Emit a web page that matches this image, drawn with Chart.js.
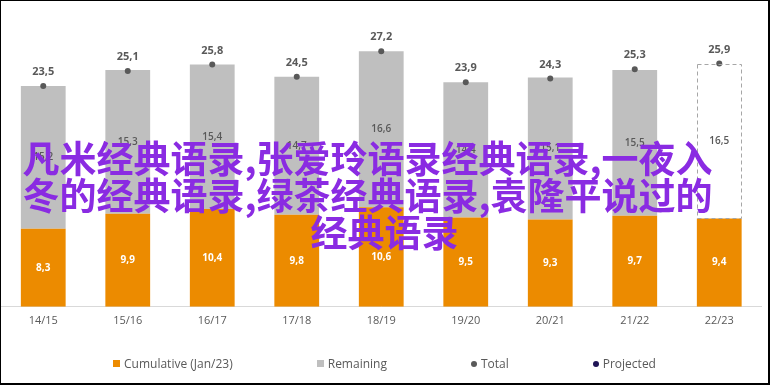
<!DOCTYPE html>
<html>
<head>
<meta charset="utf-8">
<script src="https://cdn.jsdelivr.net/npm/chart.js@4.4.1/dist/chart.umd.min.js"></script>
<style>
    html, body { margin: 0; padding: 0; background: #fff; }
    #frame {
        position: relative;
        width: 770px;
        height: 385px;
        box-sizing: border-box;
        border: 1px solid #000;
        border-right-width: 2px;
        border-bottom-width: 2px;
        overflow: hidden;
    }
    #chartBox { position: absolute; left: 0; top: 0; width: 767px; height: 382px; }
    #legend {
        position: absolute;
        left: 0; right: 0; top: 354px;
        display: flex;
        justify-content: center;
        gap: 84px;
        font-family: 'Open Sans', sans-serif;
        font-size: 12px;
        color: #595959;
    }
    #legend span.item { display: flex; align-items: center; }
    #legend i { display: inline-block; width: 7px; height: 7px; margin-right: 4px; }
    #legend i.dot { border-radius: 50%; width: 6px; height: 6px; }
    #overlay {
        position: absolute;
        left: 0; width: 767px; top: 138px;
        text-align: center;
        font-family: 'Noto Sans CJK SC', sans-serif;
        font-weight: 700;
        font-size: 37px;
        line-height: 37px;
        color: #8a2be2;
        white-space: nowrap;
        pointer-events: none;
    }
    #overlay .shift { position: relative; left: -17px; }
</style>
</head>
<body>
<div id="frame">
    <div id="chartBox"><canvas id="seasonChart"></canvas></div>
    <div id="legend">
        <span class="item"><i style="background:#ec8b00"></i>Cumulative (Jan/23)</span>
        <span class="item"><i style="background:#bfbfbf"></i>Remaining</span>
        <span class="item"><i class="dot" style="background:#595959"></i>Total</span>
        <span class="item"><i class="dot" style="background:#1f1456"></i>Projected</span>
    </div>
    <div id="overlay">
        <div class="shift">凡米经典语录,张爱玲语录经典语录,一夜入</div>
        <div class="shift">冬的经典语录,绿茶经典语录,袁隆平说过的</div>
        <div>经典语录</div>
    </div>
</div>
<script>
const seasons = ['14/15', '15/16', '16/17', '17/18', '18/19', '19/20', '20/21', '21/22', '22/23'];
const cumulative = [8.3, 9.9, 10.4, 9.8, 10.6, 9.5, 9.3, 9.7, 9.4];
const remaining = [15.2, 15.3, 15.4, 14.7, 16.6, 14.4, 15.1, 15.5, 16.5];
const totals = [23.5, 25.1, 25.8, 24.5, 27.2, 23.9, 24.3, 25.3, 25.9];
const projected = [null, null, null, null, null, null, null, null, 10.2];

const colors = {
    orange: '#ec8b00',
    gray: '#bfbfbf',
    text: '#595959',
    navy: '#1f1456',
    dash: '#a6a6a6',
    axis: '#d9d9d9'
};

const lastIndex = seasons.length - 1;
const fmt = function (v) { return v.toFixed(1).replace('.', ','); };

const labelsPlugin = {
    id: 'valueLabels',
    afterDatasetsDraw: function (chart) {
        const ctx = chart.ctx;
        ctx.save();
        ctx.textAlign = 'center';
        ctx.textBaseline = 'middle';

        // dashed outline for the projected remaining bar
        const remMeta = chart.getDatasetMeta(1);
        const lastBar = remMeta.data[lastIndex];
        if (lastBar) {
            const half = lastBar.width / 2;
            ctx.strokeStyle = colors.dash;
            ctx.lineWidth = 1;
            ctx.setLineDash([4, 3]);
            ctx.strokeRect(Math.round(lastBar.x - half) + 0.5, Math.round(lastBar.y) + 0.5,
                Math.round(lastBar.width) - 1, Math.round(lastBar.base - lastBar.y) - 1);
            ctx.setLineDash([]);
        }

        chart.getDatasetMeta(0).data.forEach(function (el, i) {
            ctx.fillStyle = '#ffffff';
            ctx.font = '700 10px "Open Sans", sans-serif';
            ctx.fillText(fmt(cumulative[i]), el.x, (el.y + el.base) / 2);
        });
        remMeta.data.forEach(function (el, i) {
            ctx.fillStyle = colors.text;
            ctx.font = '600 10px "Open Sans", sans-serif';
            ctx.fillText(fmt(remaining[i]), el.x, (el.y + el.base) / 2);
        });
        chart.getDatasetMeta(2).data.forEach(function (el, i) {
            ctx.fillStyle = colors.text;
            ctx.font = '700 11px "Open Sans", sans-serif';
            ctx.fillText(fmt(totals[i]), el.x, el.y - 14);
        });
        chart.getDatasetMeta(3).data.forEach(function (el, i) {
            if (projected[i] === null) return;
            ctx.fillStyle = colors.navy;
            ctx.font = '700 11px "Open Sans", sans-serif';
            ctx.textAlign = 'left';
            ctx.fillText(fmt(projected[i]), el.x + 9, el.y);
        });
        ctx.restore();
    }
};

new Chart(document.getElementById('seasonChart'), {
    data: {
        labels: seasons,
        datasets: [{
            type: 'bar',
            label: 'Cumulative (Jan/23)',
            data: cumulative,
            backgroundColor: colors.orange,
            stack: 's',
            order: 1,
            barPercentage: 0.53,
            categoryPercentage: 1
        }, {
            type: 'bar',
            label: 'Remaining',
            data: remaining,
            backgroundColor: remaining.map(function (v, i) { return i === lastIndex ? '#ffffff' : colors.gray; }),
            stack: 's',
            order: 2,
            barPercentage: 0.53,
            categoryPercentage: 1
        }, {
            type: 'line',
            label: 'Total',
            data: totals,
            showLine: false,
            pointRadius: 3,
            pointBackgroundColor: colors.text,
            pointBorderWidth: 0,
            order: 0
        }, {
            type: 'line',
            label: 'Projected',
            data: projected,
            showLine: false,
            pointRadius: 3,
            pointBackgroundColor: colors.navy,
            pointBorderWidth: 0,
            order: 0
        }]
    },
    options: {
        responsive: true,
        maintainAspectRatio: false,
        animation: false,
        layout: { autoPadding: false, padding: { left: 0, right: 6.5, top: 24, bottom: 49 } },
        plugins: {
            legend: { display: false },
            tooltip: { enabled: false }
        },
        scales: {
            x: {
                stacked: true,
                offset: true,
                grid: { display: false, drawTicks: false },
                border: { color: colors.axis, width: 1 },
                ticks: {
                    color: colors.text,
                    padding: 7,
                    font: { family: 'Open Sans', size: 11 }
                }
            },
            y: {
                stacked: true,
                display: false,
                min: 0,
                max: 30
            }
        }
    },
    plugins: [labelsPlugin]
});
</script>
</body>
</html>
